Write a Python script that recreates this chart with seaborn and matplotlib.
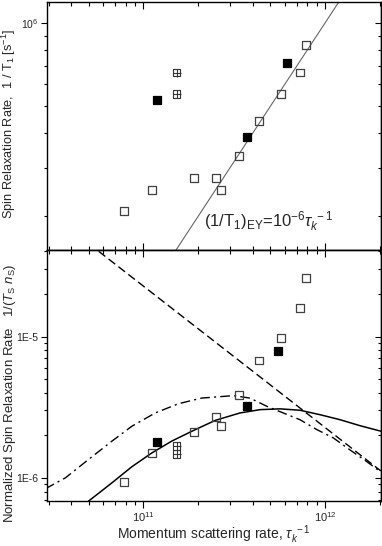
import numpy as np
import seaborn as sns
import matplotlib
matplotlib.use('Agg')
import matplotlib.pyplot as plt
from matplotlib.ticker import LogLocator, NullFormatter, FuncFormatter

# ---- date ----
# panoul de sus: 1/T1 in functie de rata de imprastiere
open_x = [7.8e10, 1.11e11, 1.90e11, 2.51e11, 2.68e11, 3.37e11, 4.35e11, 5.73e11, 7.31e11, 7.89e11]
open_y_top = [2.09e5, 2.49e5, 2.76e5, 2.76e5, 2.49e5, 3.31e5, 4.42e5, 5.53e5, 6.62e5, 8.30e5]
filled_x_top = [1.19e11, 3.71e11, 6.21e11]
filled_y_top = [5.25e5, 3.86e5, 7.16e5]
cross_x = [1.52e11, 1.52e11]
cross_y_top = [6.62e5, 5.53e5]
ey_x = [1.0e11, 2.5e12]
ey_y = [1.0e5, 2.5e6]

# panoul de jos: rata normalizata
open_y_bot = [9.4e-7, 1.49e-6, 2.11e-6, 2.68e-6, 2.32e-6, 3.86e-6, 6.77e-6, 9.74e-6, 1.60e-5, 2.61e-5]
filled_x_bot = [1.19e11, 3.71e11, 5.53e11]
filled_y_bot = [1.80e-6, 3.21e-6, 7.96e-6]
cross_y_bot = [1.69e-6, 1.48e-6]

dashed_x = [5.0e10, 2.03e12]
dashed_y = [4.54e-5, 1.12e-6]

dashdot_x = [2.88e10, 3.71e10, 4.98e10, 6.70e10, 8.63e10, 1.16e11, 1.56e11, 2.09e11, 3.13e11,
             3.86e11, 4.78e11, 5.89e11, 7.28e11, 8.99e11, 1.11e12, 1.37e12, 1.69e12, 2.01e12]
dashdot_y = [8.38e-7, 1.00e-6, 1.35e-6, 1.82e-6, 2.32e-6, 2.88e-6, 3.35e-6, 3.67e-6, 3.82e-6,
             3.67e-6, 3.21e-6, 2.88e-6, 2.58e-6, 2.20e-6, 1.92e-6, 1.58e-6, 1.31e-6, 1.11e-6]

solid_x = [4.98e10, 6.70e10, 8.63e10, 1.11e11, 1.43e11, 1.85e11, 2.48e11, 3.40e11, 4.39e11,
           5.65e11, 7.28e11, 9.38e11, 1.21e12, 1.56e12, 2.03e12]
solid_y = [6.85e-7, 9.23e-7, 1.20e-6, 1.50e-6, 1.82e-6, 2.14e-6, 2.55e-6, 2.88e-6, 3.04e-6,
           3.08e-6, 3.01e-6, 2.80e-6, 2.58e-6, 2.34e-6, 2.14e-6]

X_LIM = (2.94e10, 2.03e12)

sns.set_theme(style='ticks')
plt.rcParams['font.family'] = ['Liberation Sans', 'DejaVu Sans']
plt.rcParams['mathtext.fontset'] = 'custom'
plt.rcParams['mathtext.rm'] = 'Liberation Sans'
plt.rcParams['mathtext.it'] = 'Liberation Sans:italic'
plt.rcParams['mathtext.bf'] = 'Liberation Sans:bold'
plt.rcParams['axes.linewidth'] = 1.0


def draw_points(ax, y_open, x_fill, y_fill, y_cross):
    sns.scatterplot(x=open_x, y=y_open, ax=ax, marker='s', s=32, facecolor='none',
                    edgecolor='0.25', linewidth=0.9, zorder=4)
    sns.scatterplot(x=x_fill, y=y_fill, ax=ax, marker='s', s=32, color='black',
                    edgecolor='black', linewidth=0.9, zorder=4)
    sns.scatterplot(x=cross_x, y=y_cross, ax=ax, marker='s', s=32, facecolor='none',
                    edgecolor='0.2', linewidth=0.8, zorder=4)
    sns.scatterplot(x=cross_x, y=y_cross, ax=ax, marker='+', s=32, color='0.2',
                    linewidth=0.8, zorder=4)


def style_axis(ax, x_inside):
    ax.set_xscale('log')
    ax.set_yscale('log')
    ax.set_xlim(*X_LIM)
    for sp in ax.spines.values():
        sp.set_visible(True)
        sp.set_color('black')
    ax.xaxis.set_minor_locator(LogLocator(base=10, subs=np.arange(2, 10)))
    ax.yaxis.set_minor_locator(LogLocator(base=10, subs=np.arange(2, 10)))
    ax.xaxis.set_minor_formatter(NullFormatter())
    ax.yaxis.set_minor_formatter(NullFormatter())
    ax.tick_params(axis='y', which='both', direction='out', left=True, right=False,
                   labelsize=7.5, color='black', width=0.8, pad=2)
    ax.tick_params(axis='y', which='major', length=4)
    ax.tick_params(axis='y', which='minor', length=2.5)
    ax.tick_params(axis='x', which='both', direction='in' if x_inside else 'out',
                   bottom=True, top=x_inside, labelsize=8, color='black', width=0.8, pad=2)
    ax.tick_params(axis='x', which='major', length=5)
    ax.tick_params(axis='x', which='minor', length=3)
    # ticks spre interior pe dreapta
    sec_y = ax.secondary_yaxis('right')
    sec_y.yaxis.set_minor_locator(LogLocator(base=10, subs=np.arange(2, 10)))
    sec_y.yaxis.set_major_formatter(NullFormatter())
    sec_y.yaxis.set_minor_formatter(NullFormatter())
    sec_y.tick_params(which='both', direction='in', color='black', width=0.8)
    sec_y.tick_params(which='major', length=4)
    sec_y.tick_params(which='minor', length=2.5)
    if not x_inside:
        sec_x = ax.secondary_xaxis('top')
        sec_x.xaxis.set_minor_locator(LogLocator(base=10, subs=np.arange(2, 10)))
        sec_x.xaxis.set_major_formatter(NullFormatter())
        sec_x.xaxis.set_minor_formatter(NullFormatter())
        sec_x.tick_params(which='both', direction='in', color='black', width=0.8)
        sec_x.tick_params(which='major', length=5)
        sec_x.tick_params(which='minor', length=3)


fig = plt.figure(figsize=(3.82, 5.46), dpi=100)
ax_top = fig.add_axes([0.123, 0.542, 0.874, 0.4542])
ax_bot = fig.add_axes([0.123, 0.083, 0.874, 0.459])

# ---- panoul de sus ----
sns.lineplot(x=ey_x, y=ey_y, ax=ax_top, color='0.4', linewidth=0.8, sort=False,
             estimator=None, zorder=2)
draw_points(ax_top, open_y_top, filled_x_top, filled_y_top, cross_y_top)
style_axis(ax_top, x_inside=True)
ax_top.set_ylim(1.51e5, 1.19e6)
ax_top.tick_params(axis='x', labelbottom=False)
ax_top.set_ylabel('Spin Relaxation Rate,  1 / T$_1$ [s$^{-1}$]', fontsize=9.2)
ax_top.yaxis.set_label_coords(-0.088, 0.51)
ax_top.text(0.47, 0.095, r'(1/T$_1$)$_{\rm EY}$=10$^{-6}$$\tau_k^{\ -1}$', transform=ax_top.transAxes,
            fontsize=12, ha='left', va='baseline')

# ---- panoul de jos ----
sns.lineplot(x=dashed_x, y=dashed_y, ax=ax_bot, color='black', linewidth=1.0, sort=False,
             estimator=None, dashes=False, linestyle=(0, (6, 3)), zorder=2)
sns.lineplot(x=dashdot_x, y=dashdot_y, ax=ax_bot, color='black', linewidth=1.0, sort=False,
             estimator=None, linestyle=(0, (7, 3, 1.5, 3)), zorder=2)
sns.lineplot(x=solid_x, y=solid_y, ax=ax_bot, color='black', linewidth=1.1, sort=False,
             estimator=None, zorder=2)
draw_points(ax_bot, open_y_bot, filled_x_bot, filled_y_bot, cross_y_bot)
style_axis(ax_bot, x_inside=False)
ax_bot.set_ylim(6.9e-7, 4.09e-5)
ax_bot.yaxis.set_major_formatter(FuncFormatter(lambda v, p: '1E%d' % round(np.log10(v))))
ax_bot.set_ylabel(r'Normalized Spin Relaxation Rate   1/($T_{\rm S}\ n_{\rm S}$)', fontsize=9.5)
ax_bot.yaxis.set_label_coords(-0.088, 0.43)
ax_bot.set_xlabel(r'Momentum scattering rate, $\tau_k^{\ -1}$', fontsize=10, labelpad=-0.5)

fig.savefig('out.png', dpi=100)
